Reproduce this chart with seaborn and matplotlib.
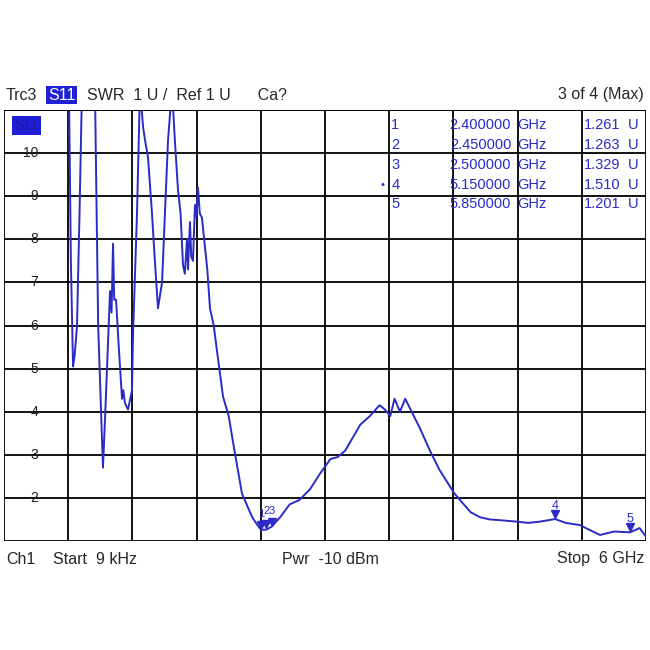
import matplotlib
matplotlib.use("Agg")
import matplotlib.pyplot as plt
import seaborn as sns
import numpy as np
import pandas as pd

freq_ghz = [0.600, 0.607, 0.625, 0.645, 0.660, 0.682, 0.705, 0.729, 0.850, 0.880, 0.925, 0.950, 0.991,
            1.005, 1.019, 1.030, 1.047, 1.075, 1.103, 1.115, 1.130, 1.159, 1.180, 1.196, 1.206, 1.243,
            1.271, 1.300, 1.318, 1.346, 1.383, 1.410, 1.439, 1.477, 1.533, 1.570, 1.598, 1.626, 1.650,
            1.673, 1.690, 1.710, 1.720, 1.738, 1.750, 1.766, 1.785, 1.800, 1.813, 1.830, 1.850, 1.879,
            1.900, 1.925, 1.960, 1.991, 2.047, 2.100, 2.140, 2.224, 2.318, 2.360, 2.400, 2.450, 2.500,
            2.580, 2.670, 2.760, 2.860, 2.950, 3.050, 3.120, 3.190, 3.260, 3.330, 3.420, 3.510, 3.560,
            3.610, 3.650, 3.700, 3.750, 3.820, 3.890, 3.980, 4.070, 4.210, 4.360, 4.450, 4.540, 4.650,
            4.790, 4.900, 5.010, 5.150, 5.250, 5.380, 5.570, 5.700, 5.850, 5.940, 6.000]
swr = [11.5, 11.5, 7.5, 5.05, 5.3, 5.98, 8.5, 11.5, 11.5, 6.0, 2.7, 4.2, 6.8,
       6.3, 7.9, 6.6, 6.6, 5.4, 4.3, 4.5, 4.2, 4.05, 4.3, 4.5, 5.8, 8.6,
       11.5, 10.6, 10.3, 9.9, 8.6, 7.5, 6.4, 7.0, 10.3, 11.5, 10.25, 9.15, 8.6,
       7.4, 7.2, 8.0, 7.3, 8.4, 7.6, 7.5, 8.8, 8.5, 9.2, 8.6, 8.5, 7.8,
       7.3, 6.4, 6.0, 5.4, 4.35, 3.9, 3.3, 2.1, 1.56, 1.4, 1.261, 1.263, 1.329,
       1.55, 1.85, 1.95, 2.2, 2.55, 2.9, 2.95, 3.1, 3.4, 3.7, 3.9, 4.15, 4.05,
       3.9, 4.3, 4.0, 4.3, 3.95, 3.6, 3.1, 2.65, 2.1, 1.67, 1.55, 1.5, 1.48,
       1.45, 1.42, 1.45, 1.51, 1.42, 1.37, 1.14, 1.22, 1.201, 1.3, 1.1]

marker_ids = ["1", "2", "3", "4", "5"]
marker_freq = [2.40, 2.45, 2.50, 5.15, 5.85]
marker_val = [1.261, 1.263, 1.329, 1.510, 1.201]
y_ticks = [2, 3, 4, 5, 6, 7, 8, 9, 10]

blue = "#2b2bc8"
sns.set_theme(style="white")
plt.rcParams['font.family'] = ['Liberation Sans', 'DejaVu Sans']

fig = plt.figure(figsize=(6.5, 6.5), dpi=100)
ax = fig.add_axes([4/650, 1-541/650, 642/650, 431/650])
df = pd.DataFrame({"f": freq_ghz, "swr": swr})
sns.lineplot(data=df, x="f", y="swr", ax=ax, color=blue, lw=1.4, clip_on=True)
ax.set_xlim(0, 6)
ax.set_ylim(1, 11)
ax.set_xticks(np.arange(0, 6.01, 0.6))
ax.set_yticks(range(1, 12))
ax.tick_params(left=False, bottom=False, labelleft=False, labelbottom=False)
ax.grid(True, color="black", lw=1.3)
ax.set_xlabel(""); ax.set_ylabel("")
for s in ax.spines.values():
    s.set_visible(False)
ax.axhline(11, color="black", lw=1.3)
for t in y_ticks:
    ax.text(0.32, t, str(t), ha="right", va="center", fontsize=10, color="#222222")
ax.text(0.10, 10.55, "S11", fontsize=10, color="#1a1aa0",
        bbox=dict(boxstyle="square,pad=0.2", fc="#1f1fd8", ec="none"))

# markers
ax.plot(marker_freq, [v + 0.12 for v in marker_val], marker="v", ls="none", color=blue, ms=6)
ax.text(2.40, 1.55, "1", color=blue, fontsize=8, ha="center")
ax.text(2.45, 1.62, "2", color=blue, fontsize=8, ha="center")
ax.text(2.50, 1.62, "3", color=blue, fontsize=8, ha="center")
ax.text(5.15, 1.75, "4", color=blue, fontsize=9, ha="center")
ax.text(5.85, 1.45, "5", color=blue, fontsize=9, ha="center")

# marker table
for i, (mid, mf, mv) in enumerate(zip(marker_ids, marker_freq, marker_val)):
    y = 10.65 - i * 0.46
    ax.text(3.62, y, mid, color=blue, fontsize=10.5, va="center")
    ax.text(4.74, y, f"{mf:.6f}", color=blue, fontsize=10.5, va="center", ha="right")
    ax.text(4.80, y, "GHz", color=blue, fontsize=10.5, va="center")
    ax.text(5.76, y, f"{mv:.3f}", color=blue, fontsize=10.5, va="center", ha="right")
    ax.text(5.83, y, "U", color=blue, fontsize=10.5, va="center")
ax.text(3.52, 10.65 - 3 * 0.46, "•", color=blue, fontsize=8, va="center")

# header/footer
fs = 11.5
fig.text(6/650, 1-95/650, "Trc3", fontsize=fs, va="center")
fig.text(48/650, 1-95/650, "S11", fontsize=fs, va="center", color="white",
         bbox=dict(boxstyle="square,pad=0.12", fc="#1f1fd8", ec="none"))
fig.text(87/650, 1-95/650, "SWR  1 U /  Ref 1 U      Ca?", fontsize=fs, va="center")
fig.text(644/650, 1-95/650, "3 of 4 (Max)", fontsize=fs, va="center", ha="right")
fig.text(6/650, 1-559/650, "Ch1", fontsize=fs, va="center")
fig.text(53/650, 1-559/650, "Start  9 kHz", fontsize=fs, va="center")
fig.text(282/650, 1-559/650, "Pwr  -10 dBm", fontsize=fs, va="center")
fig.text(644/650, 1-559/650, "Stop  6 GHz", fontsize=fs, va="center", ha="right")

fig.savefig("out.png", dpi=100, facecolor="white")
